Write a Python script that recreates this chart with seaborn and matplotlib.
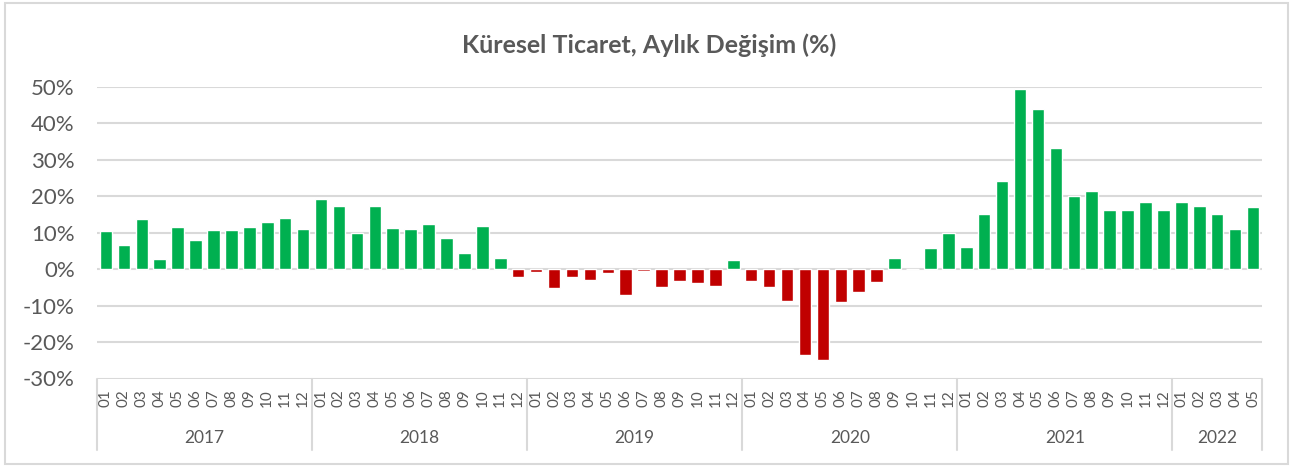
import pandas as pd
import matplotlib.pyplot as plt
import seaborn as sns
from matplotlib.patches import Rectangle

# Monthly change in global trade (%)
years = ['2017', '2018', '2019', '2020', '2021', '2022']
months = ['01', '02', '03', '04', '05', '06', '07', '08', '09', '10', '11', '12']

change_2017 = [10.5, 6.5, 13.8, 2.8, 11.6, 7.9, 10.6, 10.8, 11.6, 12.9, 14.1, 11.0]
change_2018 = [19.1, 17.3, 10.0, 17.4, 11.3, 11.0, 12.3, 8.6, 4.5, 11.7, 3.1, -2.3]
change_2019 = [-0.8, -5.3, -2.3, -3.0, -1.0, -7.0, -0.4, -4.9, -3.3, -3.8, -4.6, 2.5]
change_2020 = [-3.3, -4.9, -8.8, -23.6, -25.0, -9.0, -6.3, -3.6, 3.0, 0.1, 5.8, 10.0]
change_2021 = [6.1, 15.2, 24.1, 49.4, 43.8, 33.2, 19.9, 21.4, 16.1, 16.2, 18.5, 16.3]
change_2022 = [18.4, 17.2, 15.0, 11.1, 17.0]

yearly = [change_2017, change_2018, change_2019, change_2020, change_2021, change_2022]

# Build long table
rows = []
for year, vals in zip(years, yearly):
    for m, v in zip(months, vals):
        rows.append({'year': year, 'month': m, 'key': f'{year}-{m}', 'change': v})
df = pd.DataFrame(rows)

GREEN = '#00B050'
RED = '#C00000'
TEXT = '#595959'
GRID = '#D9D9D9'

palette = {k: (GREEN if v >= 0 else RED) for k, v in zip(df['key'], df['change'])}

sns.set_style('white')
plt.rcParams['font.family'] = ['Lato', 'DejaVu Sans']

fig = plt.figure(figsize=(12.92, 4.68), dpi=100)
ax = fig.add_axes([97 / 1292, 1 - 378.5 / 468, (1262 - 97) / 1292, (378.5 - 86.7) / 468])

sns.barplot(data=df, x='key', y='change', hue='key', palette=palette,
            legend=False, width=0.7, saturation=1, ax=ax, zorder=3)

ax.set_xlim(-0.5, len(df) - 0.5)
ax.set_ylim(-30, 50)

yticks = list(range(-30, 51, 10))
ax.set_yticks(yticks)
ax.set_yticklabels([f'{t}%' for t in yticks], fontsize=16, color=TEXT)
ax.yaxis.grid(True, color=GRID, linewidth=1.5, zorder=0)
ax.set_axisbelow(True)

ax.set_xticks(range(len(df)))
ax.set_xticklabels(df['month'], rotation=90, fontsize=11, color=TEXT)
ax.tick_params(axis='x', length=0, pad=8)
ax.tick_params(axis='y', length=0, pad=16)
for s in ax.spines.values():
    s.set_visible(False)
ax.set_xlabel('')
ax.set_ylabel('')

# Year group labels and separators
sep_bottom = -(450 - 378.5) / (378.5 - 86.7)
start = 0
bounds = [-0.5]
for year, vals in zip(years, yearly):
    end = start + len(vals)
    ax.text((start + end - 1) / 2, -(438 - 378.5) / (378.5 - 86.7), year,
            transform=ax.get_xaxis_transform(), ha='center', va='center',
            fontsize=12.5, color=TEXT)
    bounds.append(end - 0.5)
    start = end
for b in bounds:
    ax.plot([b, b], [0, sep_bottom], transform=ax.get_xaxis_transform(),
            color=GRID, linewidth=1.5, clip_on=False)

fig.text(649 / 1292, 1 - 45 / 468, 'Küresel Ticaret, Aylık Değişim (%)',
         ha='center', va='center', fontsize=18, fontweight='bold', color=TEXT)

# Outer frame
fig.patches.append(Rectangle((5 / 1292, 1 - 464 / 468), (1288 - 5) / 1292, (464 - 3) / 468,
                             transform=fig.transFigure, fill=False,
                             edgecolor=GRID, linewidth=1.5))

fig.savefig('out.png', dpi=100)
